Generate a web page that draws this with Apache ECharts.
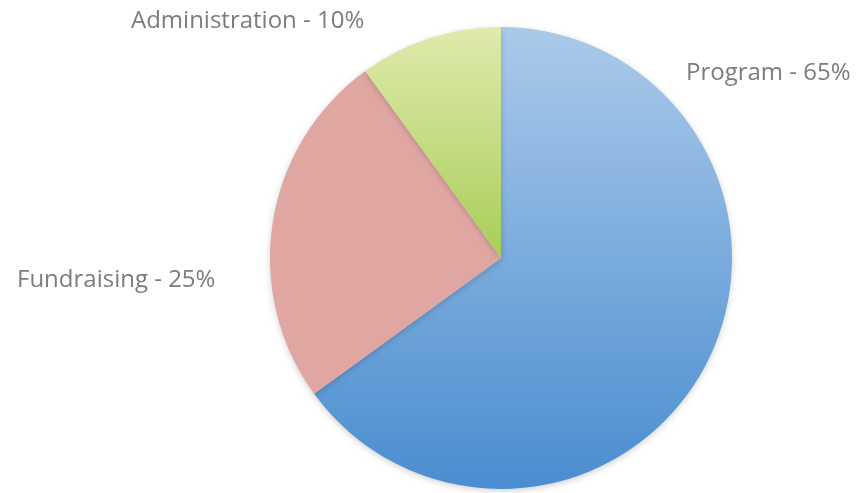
<!DOCTYPE html>
<html>
<head>
<meta charset="utf-8">
<script src="https://cdn.jsdelivr.net/npm/echarts@6/dist/echarts.min.js"></script>
<style>
html,body{margin:0;padding:0;background:#fff;}
#chart{width:862px;height:493px;}
</style>
</head>
<body>
<div id="chart"></div>
<script>
const categories = ["Program", "Fundraising", "Administration"];
const values = [65, 25, 10];

const colors = {
  Program: new echarts.graphic.LinearGradient(0, 0, 0, 1, [
    {offset: 0, color: '#abcaea'}, {offset: 1, color: '#4a8dd0'}]),
  Fundraising: '#e0a6a2',
  Administration: new echarts.graphic.LinearGradient(0, 0, 0, 1, [
    {offset: 0, color: '#e0eaad'}, {offset: 1, color: '#a7ce57'}])
};
const labelPos = {
  Program: {x: 686, y: 73},
  Fundraising: {x: 17, y: 280},
  Administration: {x: 131, y: 21}
};

const chart = echarts.init(document.getElementById('chart'), null, {renderer: 'canvas'});
chart.setOption({
  animation: false,
  series: [{
    type: 'pie',
    center: [501, 258],
    radius: 231,
    startAngle: 90,
    clockwise: true,
    data: categories.map((c, i) => ({
      name: c, value: values[i],
      itemStyle: {color: colors[c]}
    })),
    itemStyle: {
      borderWidth: 0,
      shadowBlur: 6,
      shadowOffsetY: 2,
      shadowColor: 'rgba(0,0,0,0.18)'
    },
    label: {
      show: true,
      formatter: p => p.name + ' - ' + p.value + '%',
      fontFamily: 'Open Sans',
      fontSize: 24,
      color: '#7c7c7c',
      overflow: 'none'
    },
    labelLine: {show: false},
    labelLayout: function (params) {
      const name = categories[params.dataIndex];
      const p = labelPos[name];
      return {x: p.x, y: p.y, align: 'left', verticalAlign: 'middle', hideOverlap: false};
    },
    emphasis: {disabled: true}
  }]
});
</script>
</body>
</html>
